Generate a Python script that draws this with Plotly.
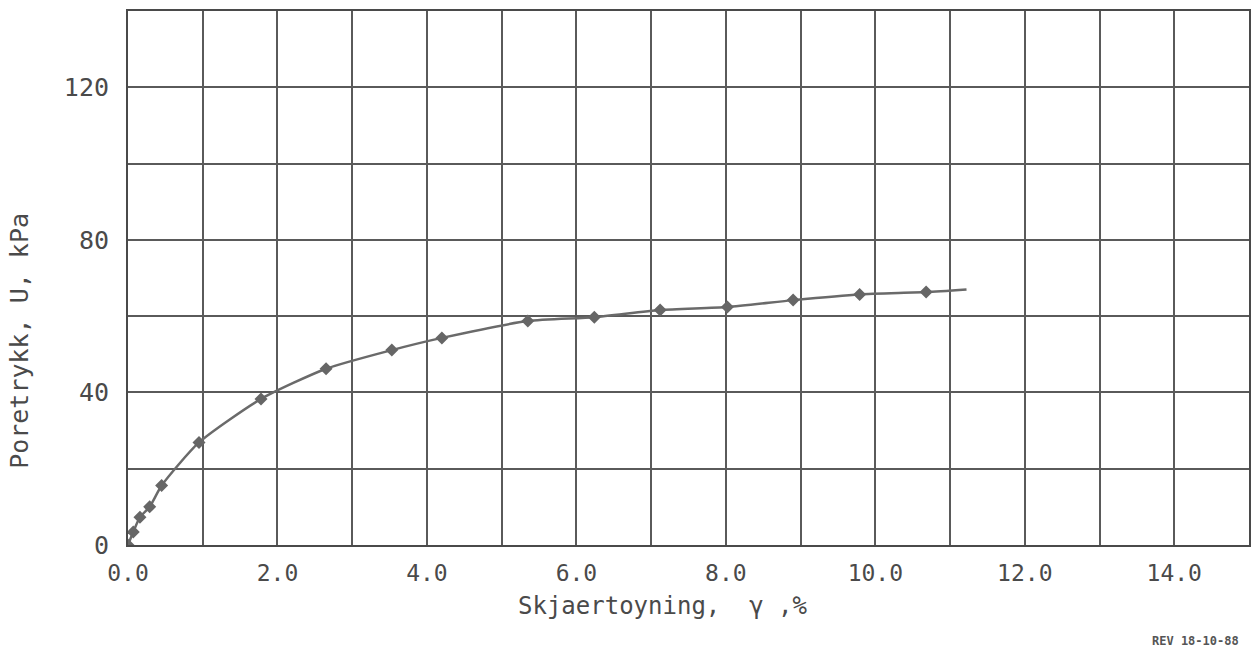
import plotly.graph_objects as go

# Data
strain_pct = [0.0, 0.07, 0.16, 0.29, 0.45, 0.95, 1.78, 2.65, 3.53, 4.20, 5.35, 6.24, 7.12, 8.02, 8.90, 9.79, 10.68]
pore_kpa = [0.0, 3.4, 7.3, 10.0, 15.6, 26.9, 38.3, 46.2, 51.1, 54.3, 58.7, 59.7, 61.6, 62.4, 64.2, 65.7, 66.3]
curve_end_x = [11.22]
curve_end_y = [67.0]

x_tick_vals = list(range(0, 16))
x_tick_text = ["0.0", "", "2.0", "", "4.0", "", "6.0", "", "8.0", "", "10.0", "", "12.0", "", "14.0", ""]
y_tick_vals = [0, 20, 40, 60, 80, 100, 120, 140]
y_tick_text = ["0", "", "40", "", "80", "", "120", ""]

FONT = "DejaVu Sans Mono"
INK = "#4a4a4a"

fig = go.Figure()
fig.add_trace(go.Scatter(
    x=strain_pct + curve_end_x, y=pore_kpa + curve_end_y,
    mode="lines", line=dict(color="#6a6a6a", width=2.5, shape="spline", smoothing=0.6),
    hoverinfo="skip", showlegend=False,
))
fig.add_trace(go.Scatter(
    x=strain_pct, y=pore_kpa, mode="markers",
    marker=dict(symbol="diamond", size=10, color="#666666"),
    showlegend=False,
))

axis_common = dict(
    showgrid=True, gridcolor="#5a5a5a", gridwidth=1.5,
    showline=True, linecolor="#4a4a4a", linewidth=2, mirror=True,
    zeroline=False, ticks="",
)
fig.update_xaxes(range=[0, 15], tickmode="array", tickvals=x_tick_vals, ticktext=x_tick_text,
                 ticklabelstandoff=6, tickfont=dict(family=FONT, size=23, color=INK), **axis_common)
fig.update_yaxes(range=[0, 140], tickmode="array", tickvals=y_tick_vals, ticktext=y_tick_text,
                 ticklabelstandoff=12, tickfont=dict(family=FONT, size=25, color=INK), **axis_common)

fig.add_annotation(text="Skjaertoyning,  γ ,%", xref="paper", yref="paper",
                   x=(663 - 128) / 1122, y=-(606 - 545) / 536, xanchor="center", yanchor="middle",
                   showarrow=False, font=dict(family=FONT, size=24, color=INK))
fig.add_annotation(text="Poretrykk, U, kPa", xref="paper", yref="paper",
                   x=-(128 - 20) / 1122, y=(545 - 340) / 536, xanchor="center", yanchor="middle",
                   textangle=-90, showarrow=False, font=dict(family=FONT, size=25, color=INK))
fig.add_annotation(text="<b>REV 18-10-88</b>", xref="paper", yref="paper",
                   x=(1242 - 128) / 1122, y=-(650 - 545) / 536, xanchor="right", yanchor="bottom",
                   showarrow=False, font=dict(family=FONT, size=12, color="#555"))

fig.update_layout(
    width=1260, height=651,
    margin=dict(l=128, r=10, t=9, b=106),
    plot_bgcolor="white", paper_bgcolor="white",
)

fig.write_html("out.html", config={"displayModeBar": False},
               post_script="document.body.style.margin='0';document.body.style.overflow='hidden';")
